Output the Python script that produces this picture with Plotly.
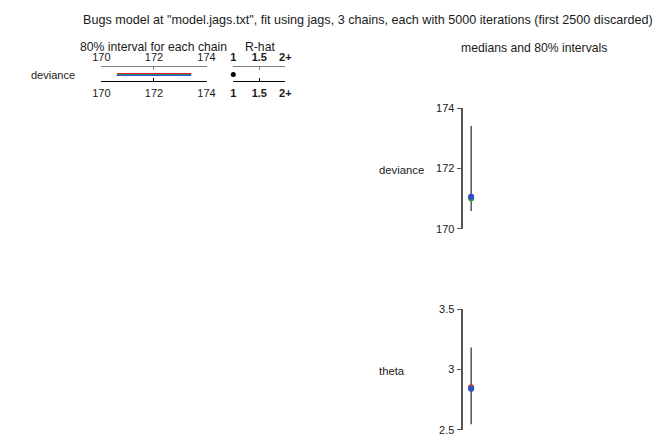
import plotly.graph_objects as go

W, H = 665, 440

# ---- data ----
chains = ["chain 1", "chain 2", "chain 3"]
chain_colors = ["#e0201c", "#2ea040", "#2a4fd0"]
# 80% interval per chain (deviance)
dev_lo = [170.60, 170.59, 170.58]
dev_hi = [173.42, 173.43, 173.41]
rhat_params = ["deviance"]
rhat_values = [1.001]
params = ["deviance", "theta"]
# per-chain medians
dev_med = [171.05, 171.00, 171.06]
theta_med = [2.852, 2.843, 2.840]
# overall 80% intervals
overall_lo = [170.59, 2.546]
overall_hi = [173.41, 3.183]
dev_ticks = [170, 172, 174]
theta_ticks = [2.5, 3, 3.5]
theta_ticktext = ["2.5", "3", "3.5"]
rhat_ticks = [1, 1.5, 2]
rhat_ticktext = ["<b>1</b>", "<b>1.5</b>", "<b>2+</b>"]

FONT = "Liberation Sans, Arial, sans-serif"
TXT = "#1a1a1a"


def px(x):
    return x / W


def py(y):
    return 1 - y / H


fig = go.Figure()

# left panel: chain intervals (row 0 = deviance)
offsets = [0.12, 0.0, -0.12]
for i in range(len(chains)):
    fig.add_trace(go.Scatter(
        x=[dev_lo[i], dev_hi[i]], y=[offsets[i], offsets[i]],
        mode="lines", line=dict(color=chain_colors[i], width=1.3),
        xaxis="x", yaxis="y", showlegend=False, hoverinfo="skip"))
fig.add_trace(go.Scatter(x=[170], y=[0], mode="markers", marker=dict(opacity=0),
                         xaxis="x2", yaxis="y", showlegend=False, hoverinfo="skip"))

# R-hat
fig.add_trace(go.Scatter(x=rhat_values, y=[0], mode="markers",
                         marker=dict(color="black", size=5),
                         xaxis="x3", yaxis="y", showlegend=False, cliponaxis=False))
fig.add_trace(go.Scatter(x=[1], y=[0], mode="markers", marker=dict(opacity=0),
                         xaxis="x4", yaxis="y", showlegend=False, hoverinfo="skip"))

# right panel: deviance
fig.add_trace(go.Scatter(x=[0, 0], y=[overall_lo[0], overall_hi[0]], mode="lines",
                         line=dict(color="black", width=1), xaxis="x5", yaxis="y3",
                         showlegend=False))
for i in range(len(chains)):
    fig.add_trace(go.Scatter(x=[0], y=[dev_med[i]], mode="markers",
                             marker=dict(color=chain_colors[i], size=6),
                             xaxis="x5", yaxis="y3", showlegend=False, cliponaxis=False))
# theta
fig.add_trace(go.Scatter(x=[0, 0], y=[overall_lo[1], overall_hi[1]], mode="lines",
                         line=dict(color="black", width=1), xaxis="x6", yaxis="y4",
                         showlegend=False))
for i in range(len(chains)):
    fig.add_trace(go.Scatter(x=[0], y=[theta_med[i]], mode="markers",
                             marker=dict(color=chain_colors[i], size=6),
                             xaxis="x6", yaxis="y4", showlegend=False, cliponaxis=False))

tickfont = dict(family=FONT, size=11, color=TXT)
hidden = dict(visible=False, showgrid=False, zeroline=False)

left_dom = [px(95), px(203)]
rhat_dom = [px(230.5), px(284)]
right_dom = [px(467), px(483)]

common_x = dict(showgrid=False, zeroline=False, tickfont=tickfont, ticks="inside",
                ticklen=3, linewidth=1, showline=True)

fig.update_layout(
    width=W, height=H,
    margin=dict(l=0, r=0, t=0, b=0),
    paper_bgcolor="white", plot_bgcolor="white",
    font=dict(family=FONT, size=11, color=TXT),
    xaxis=dict(domain=left_dom, range=[170, 174], anchor="y", side="bottom",
               tickvals=dev_ticks, tickcolor="black", linecolor="black",
               ticklabelstandoff=2, **common_x),
    xaxis2=dict(domain=left_dom, range=[170, 174], anchor="y", side="top",
                overlaying="x", tickvals=dev_ticks, tickcolor="#808080",
                linecolor="#808080", **common_x),
    xaxis3=dict(domain=rhat_dom, range=[1, 2], anchor="y", side="bottom",
                tickvals=rhat_ticks, ticktext=rhat_ticktext, tickcolor="black",
                linecolor="black", ticklabelstandoff=2, **common_x),
    xaxis4=dict(domain=rhat_dom, range=[1, 2], anchor="y", side="top", overlaying="x3",
                tickvals=rhat_ticks, ticktext=rhat_ticktext, tickcolor="#808080",
                linecolor="#808080", **common_x),
    yaxis=dict(domain=[py(76.7), py(62.3)], range=[-0.86, 1.14], **hidden),
    xaxis5=dict(domain=right_dom, range=[-1, 1], anchor="y3", **hidden),
    xaxis6=dict(domain=right_dom, range=[-1, 1], anchor="y4", **hidden),
    yaxis3=dict(domain=[py(229), py(105)], range=[170, 174], anchor="x5", side="left",
                tickvals=dev_ticks, ticks="outside", ticklen=5, tickcolor="#555555",
                showline=True, linecolor="#555555", linewidth=1.5, showgrid=False,
                zeroline=False, tickfont=tickfont),
    yaxis4=dict(domain=[py(435.7), py(311.7)], range=[2.5, 3.5], anchor="x6",
                side="left", tickvals=theta_ticks, ticktext=theta_ticktext,
                ticks="outside", ticklen=5, tickcolor="#555555", showline=True,
                linecolor="#555555", linewidth=1.5, showgrid=False, zeroline=False,
                tickfont=tickfont),
)

ann = [
    (368.5, 14, 'Bugs model at "model.jags.txt", fit using jags, 3 chains, each with 5000 iterations (first 2500 discarded)', "center", 12.6),
    (149, 42.5, "80% interval for each chain", "center", 12.2),
    (257.5, 42.5, "R-hat", "center", 12.2),
    (540, 43.5, "medians and 80% intervals", "center", 12.2),
    (20.5, 70.7, rhat_params[0], "left", 11),
    (378, 168.5, params[0], "left", 11.3),
    (378, 375.5, params[1], "left", 11.3),
]
for x, y, t, al, fs in ann:
    fig.add_annotation(x=px(x), y=py(y), xref="paper", yref="paper", text=t,
                       showarrow=False, xanchor=al, yanchor="middle",
                       font=dict(family=FONT, size=fs, color=TXT))

fig.write_html(
    "out.html",
    config={"displayModeBar": False},
    post_script="document.documentElement.style.margin='0';"
                "document.body.style.margin='0';"
                "document.body.style.overflow='hidden';",
)
